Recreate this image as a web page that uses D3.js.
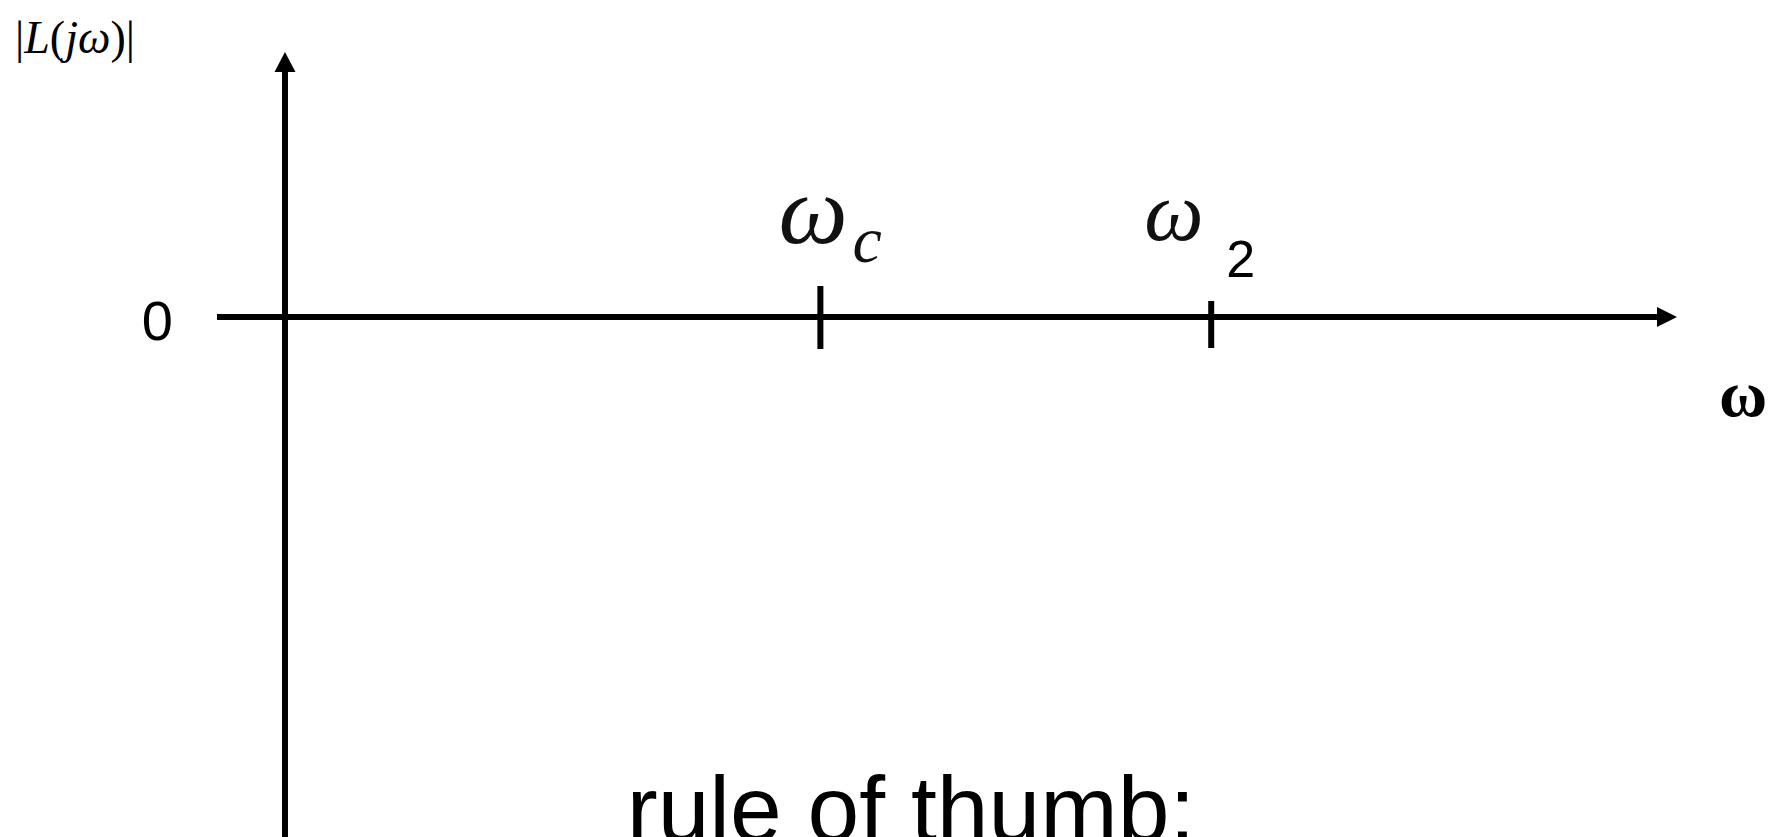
<!DOCTYPE html>
<html>
<head>
<meta charset="utf-8">
<script src="https://cdn.jsdelivr.net/npm/d3@7"></script>
<style>
  html, body { margin: 0; padding: 0; background: #fff; overflow: hidden; }
  svg { display: block; }
</style>
</head>
<body>
<script>
// Frequency axis extent (normalised to the crossover frequency)
const freqExtent = [-0.127, 2.6];
// Magnitude axis extent (0 is the 0 dB line)
const magExtent = [-2, 1];
// Marked frequencies on the frequency axis
const tickValues = [1, 1.73];
const tickNames = ["c", "2"];
// Magnitude tick labels
const magTicks = [0];
const magTickLabels = ["0"];

const W = 1774, H = 837;
const svg = d3.select("body").append("svg").attr("width", W).attr("height", H);

const x = d3.scaleLinear().domain(freqExtent).range([217, 1677]);
const y = d3.scaleLinear().domain(magExtent).range([847, 52]);

const stroke = 6;
const head = 20;

// Horizontal (frequency) axis with arrow head
svg.append("line")
  .attr("x1", x(freqExtent[0])).attr("x2", x(freqExtent[1]) - head + 2)
  .attr("y1", y(0)).attr("y2", y(0))
  .attr("stroke", "#000").attr("stroke-width", stroke);
svg.append("path")
  .attr("d", `M${x(freqExtent[1])},${y(0)} L${x(freqExtent[1]) - head},${y(0) - 10} L${x(freqExtent[1]) - head},${y(0) + 10} Z`)
  .attr("fill", "#000");

// Vertical (magnitude) axis with arrow head
svg.append("line")
  .attr("x1", x(0)).attr("x2", x(0))
  .attr("y1", y(magExtent[0])).attr("y2", y(magExtent[1]) + head - 2)
  .attr("stroke", "#000").attr("stroke-width", stroke);
svg.append("path")
  .attr("d", `M${x(0)},${y(magExtent[1])} L${x(0) - 10.5},${y(magExtent[1]) + head} L${x(0) + 10.5},${y(magExtent[1]) + head} Z`)
  .attr("fill", "#000");

// Tick marks at the marked frequencies
const tickAbove = [31, 16], tickBelow = [32, 31];
svg.selectAll("line.tick").data(tickValues).join("line")
  .attr("class", "tick")
  .attr("x1", d => x(d)).attr("x2", d => x(d))
  .attr("y1", (d, i) => y(0) - tickAbove[i])
  .attr("y2", (d, i) => y(0) + tickBelow[i])
  .attr("stroke", "#000").attr("stroke-width", stroke);

// omega_c label
svg.append("text")
  .attr("x", x(tickValues[0]) - 42).attr("y", y(0) - 74)
  .attr("font-family", "Liberation Serif").attr("font-style", "italic")
  .attr("font-size", 98).attr("fill", "#111").text("ω");
svg.append("text")
  .attr("x", x(tickValues[0]) + 32).attr("y", y(0) - 55)
  .attr("font-family", "Liberation Serif").attr("font-style", "italic")
  .attr("font-size", 66).attr("fill", "#111").text(tickNames[0]);

// omega_2 label
svg.append("text")
  .attr("x", x(tickValues[1]) - 67).attr("y", y(0) - 77)
  .attr("font-family", "Liberation Serif").attr("font-style", "italic")
  .attr("font-size", 84).attr("fill", "#111").text("ω");
svg.append("text")
  .attr("x", x(tickValues[1]) + 15).attr("y", y(0) - 40)
  .attr("font-family", "Liberation Sans")
  .attr("font-size", 52).attr("fill", "#000").text(tickNames[1]);

// Magnitude tick label
svg.selectAll("text.mag").data(magTicks).join("text")
  .attr("class", "mag")
  .attr("x", 173).attr("y", d => y(d) + 23)
  .attr("text-anchor", "end")
  .attr("font-family", "Liberation Sans").attr("font-size", 56)
  .text((d, i) => magTickLabels[i]);

// Axis titles
const yTitle = svg.append("text")
  .attr("x", 15).attr("y", 53)
  .attr("font-family", "Liberation Serif").attr("font-size", 46).attr("fill", "#000");
yTitle.append("tspan").text("|");
yTitle.append("tspan").attr("font-style", "italic").text("L");
yTitle.append("tspan").text("(");
yTitle.append("tspan").attr("font-style", "italic").text("j");
yTitle.append("tspan").attr("font-style", "italic").text("ω");
yTitle.append("tspan").text(")|");

svg.append("text")
  .attr("x", 1743).attr("y", 416)
  .attr("text-anchor", "middle")
  .attr("font-family", "Liberation Serif").attr("font-weight", "bold")
  .attr("font-size", 66).attr("fill", "#000").text("ω");

// Caption
svg.append("text")
  .attr("x", 911).attr("y", 841)
  .attr("text-anchor", "middle")
  .attr("font-family", "Liberation Sans").attr("font-size", 93)
  .attr("fill", "#000").text("rule of thumb:");
</script>
</body>
</html>
